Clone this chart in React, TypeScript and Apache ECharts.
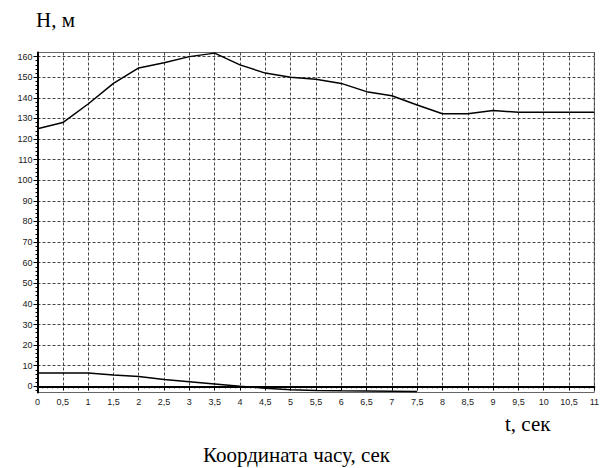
import React, { useEffect, useRef } from "react";
import * as echarts from "echarts";

const times = [0, 0.5, 1, 1.5, 2, 2.5, 3, 3.5, 4, 4.5, 5, 5.5, 6, 6.5, 7, 7.5, 8, 8.5, 9, 9.5, 10, 10.5, 11];
const heightUpper = [125, 128, 137, 147, 154.5, 157, 160, 161.7, 156, 152, 150, 149, 147, 143, 141, 136.5, 132.3, 132.3, 133.8, 133, 133, 133, 133];
const timesLower = [0, 0.5, 1, 1.5, 2, 2.5, 3, 3.5, 4, 4.5, 5, 5.5, 6, 6.5, 7, 7.5];
const heightLower = [6.5, 6.5, 6.5, 5.5, 4.8, 3.3, 2.2, 1.1, 0, -0.9, -1.7, -2, -2.2, -2.3, -2.4, -2.5];

const yTicks = [0, 10, 20, 30, 40, 50, 60, 70, 80, 90, 100, 110, 120, 130, 140, 150, 160];
const yMinorTicks = [-2, 2, 4, 6, 8, 12, 14, 16, 18, 22, 24, 26, 28, 32, 34, 36, 38, 42, 44, 46, 48, 52, 54, 56, 58, 62, 64, 66, 68, 72, 74, 76, 78, 82, 84, 86, 88, 92, 94, 96, 98, 102, 104, 106, 108, 112, 114, 116, 118, 122, 124, 126, 128, 132, 134, 136, 138, 142, 144, 146, 148, 152, 154, 156, 158];

const yAxisTitle = "Н, м";
const xAxisUnit = "t, сек";
const xAxisTitle = "Координата часу, сек";

export default function App() {
  const ref = useRef<HTMLDivElement>(null);
  useEffect(() => {
    if (!ref.current) return;
    const chart = echarts.init(ref.current, null, { renderer: "svg" });
    const labelStyle = { color: "#222", fontSize: 9, fontFamily: "Liberation Sans, Arial, sans-serif" };
    const gridDash = { color: "#444", type: [3, 2] as any, width: 1 };
    chart.setOption({
      animation: false,
      backgroundColor: "#fff",
      grid: { left: 37.5, right: 7.5, top: 52.5, bottom: 75.5, show: true, borderColor: "#666", borderWidth: 1 },
      xAxis: {
        type: "value",
        min: 0,
        max: 11,
        interval: 0.5,
        axisLine: { show: true, lineStyle: { color: "#000", width: 2 } },
        axisTick: { show: true, length: 4, lineStyle: { color: "#000" } },
        minorTick: { show: true, splitNumber: 5, length: 2, lineStyle: { color: "#000" } },
        axisLabel: { ...labelStyle, margin: 5, formatter: (v: number) => String(v).replace(".", ",") },
        splitLine: { show: true, lineStyle: gridDash },
      },
      yAxis: [
        {
          type: "value",
          min: -3,
          max: 162,
          axisLine: { show: true, lineStyle: { color: "#000", width: 2 } },
          axisTick: { show: true, length: 4, customValues: yTicks, lineStyle: { color: "#000" } },
          axisLabel: { ...labelStyle, margin: 5, customValues: yTicks },
          splitLine: { show: true, lineStyle: gridDash },
        },
        {
          type: "value",
          min: -3,
          max: 162,
          position: "left",
          offset: 0,
          axisLine: { show: false },
          axisTick: { show: true, length: 2, customValues: yMinorTicks, lineStyle: { color: "#000" } },
          axisLabel: { show: false },
          splitLine: { show: false },
        },
      ],
      series: [
        {
          type: "line",
          data: times.map((t, i) => [t, heightUpper[i]]),
          symbol: "none",
          lineStyle: { color: "#000", width: 1.5 },
        },
        {
          type: "line",
          data: timesLower.map((t, i) => [t, heightLower[i]]),
          symbol: "none",
          lineStyle: { color: "#000", width: 1.5 },
        },
      ],
      graphic: [
        { type: "text", left: 36, top: 9, style: { text: yAxisTitle, font: "21px 'Liberation Serif', serif", fill: "#000" } },
        { type: "text", left: 505, top: 413, style: { text: xAxisUnit, font: "21px 'Liberation Serif', serif", fill: "#000" } },
        { type: "text", left: 203, top: 444, style: { text: xAxisTitle, font: "21px 'Liberation Serif', serif", fill: "#000" } },
      ],
    });
    return () => chart.dispose();
  }, []);
  return <div ref={ref} style={{ position: "fixed", left: 0, top: 0, width: 602, height: 468 }} />;
}
